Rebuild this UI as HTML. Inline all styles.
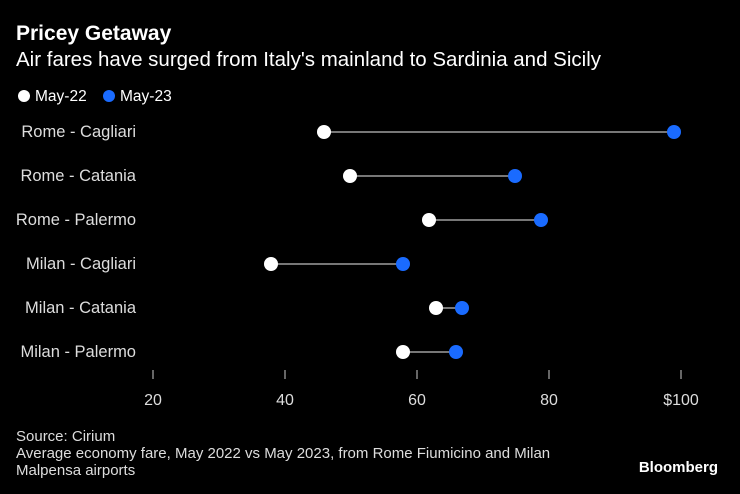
<!DOCTYPE html>
<html><head><meta charset="utf-8"><style>
html,body{margin:0;padding:0;background:#000;}
body{width:740px;height:494px;overflow:hidden;font-family:"Liberation Sans",sans-serif;color:#fff;position:relative;}
.t{position:absolute;left:16px;top:22px;font-size:21px;font-weight:bold;}
.s{position:absolute;left:16px;top:48px;font-size:20.5px;}
.f{position:absolute;left:16px;top:428px;font-size:15px;line-height:17px;color:#ddd;}
.b{position:absolute;right:22px;top:459px;font-size:15px;font-weight:bold;}
</style></head><body>
<div class="t">Pricey Getaway</div>
<div class="s">Air fares have surged from Italy's mainland to Sardinia and Sicily</div>
<svg width="740" height="494" style="position:absolute;left:0;top:0" font-family="Liberation Sans, sans-serif">
<circle cx="24" cy="96" r="6" fill="#fff"/><text x="35" y="101" font-size="15.5" fill="#fff">May-22</text>
<circle cx="109" cy="96" r="6" fill="#1a6bff"/><text x="120" y="101" font-size="15.5" fill="#fff">May-23</text>
<g font-size="16.5" fill="#ddd" text-anchor="end">
<text x="136" y="137">Rome - Cagliari</text>
<text x="136" y="181">Rome - Catania</text>
<text x="136" y="225">Rome - Palermo</text>
<text x="136" y="269">Milan - Cagliari</text>
<text x="136" y="313">Milan - Catania</text>
<text x="136" y="357">Milan - Palermo</text>
</g>
<g stroke="#777" stroke-width="2">
<line x1="324" y1="132" x2="674" y2="132"/>
<line x1="350" y1="176" x2="515" y2="176"/>
<line x1="429" y1="220" x2="541" y2="220"/>
<line x1="271" y1="264" x2="403" y2="264"/>
<line x1="436" y1="308" x2="462" y2="308"/>
<line x1="403" y1="352" x2="456" y2="352"/>
</g>
<g fill="#1a6bff">
<circle cx="674" cy="132" r="7"/><circle cx="515" cy="176" r="7"/><circle cx="541" cy="220" r="7"/>
<circle cx="403" cy="264" r="7"/><circle cx="462" cy="308" r="7"/><circle cx="456" cy="352" r="7"/>
</g>
<g fill="#fff">
<circle cx="324" cy="132" r="7"/><circle cx="350" cy="176" r="7"/><circle cx="429" cy="220" r="7"/>
<circle cx="271" cy="264" r="7"/><circle cx="436" cy="308" r="7"/><circle cx="403" cy="352" r="7"/>
</g>
<g stroke="#ccc" stroke-width="1">
<line x1="153" y1="370" x2="153" y2="379"/><line x1="285" y1="370" x2="285" y2="379"/>
<line x1="417" y1="370" x2="417" y2="379"/><line x1="549" y1="370" x2="549" y2="379"/>
<line x1="681" y1="370" x2="681" y2="379"/>
</g>
<g font-size="16" fill="#ddd" text-anchor="middle">
<text x="153" y="405">20</text><text x="285" y="405">40</text><text x="417" y="405">60</text>
<text x="549" y="405">80</text><text x="681" y="405">$100</text>
</g>
</svg>
<div class="f">Source: Cirium<br>Average economy fare, May 2022 vs May 2023, from Rome Fiumicino and Milan<br>Malpensa airports</div>
<div class="b">Bloomberg</div>
</body></html>
